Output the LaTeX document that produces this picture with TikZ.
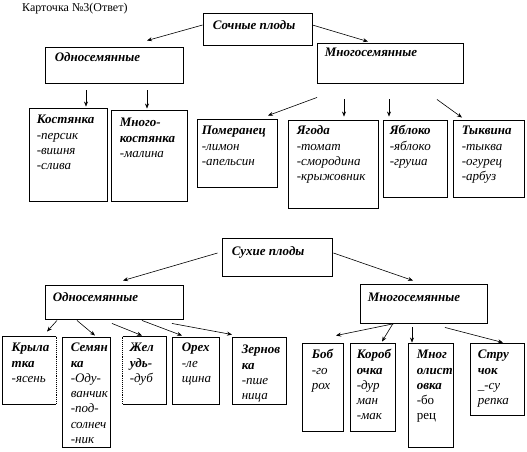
\documentclass[tikz,border=0pt]{standalone}
\usepackage{fontspec}
\setmainfont{Liberation Serif}
\usetikzlibrary{arrows.meta,fit}
\newcommand\hd[1]{{\bfseries\itshape #1}}
\newcommand\fr{\rule{0pt}{11pt}}
\newcommand\mkbox[5]{\path (#2,#3) coordinate (#1-a) (#4,#5) coordinate (#1-b); \node[boxst,fit=(#1-a)(#1-b)] (#1) {};}
\newcommand\mkboxn[5]{\path (#2,#3) coordinate (#1-a) (#4,#5) coordinate (#1-b); \node[boxst,draw=none,fit=(#1-a)(#1-b)] (#1) {};}
\newcommand\tx[4]{\node[txt] (#1-t) at ([shift={(#2,#3)}]#1.north west) {\fr #4};}
\begin{document}
\begin{tikzpicture}[x=1pt,y=-1pt,
 boxst/.style={draw,line width=0.9pt,inner sep=0pt},
 txt/.style={anchor=north west,inner sep=0pt,align=left,font=\fontsize{13}{15.3}\selectfont\itshape},
 arr/.style={-{Stealth[length=5pt,width=4pt]},line width=0.6pt}]
\useasboundingbox (0,0) rectangle (527,451);
\node[anchor=west,inner sep=0pt,font=\fontsize{12}{14}\selectfont] (title) at (22,9) {Карточка №3(Ответ)};
% top part
\mkbox{sochn}{203}{13}{312}{45}
\mkbox{odna}{45}{47}{183}{83}
\mkbox{mnoga}{317}{43}{463}{83}
\mkbox{kost}{29}{108}{107}{201}
\mkbox{mkost}{111}{110}{187}{201}
\mkbox{pomer}{197}{119}{277}{187}
\mkbox{yagoda}{288}{120}{378}{208}
\mkbox{yabl}{383}{120}{447}{197}
\mkbox{tykv}{453}{120}{524}{197}
\tx{sochn}{10}{6}{\hd{Сочные плоды}}
\tx{odna}{10}{4}{\hd{Односемянные}}
\tx{mnoga}{8}{3}{\hd{Многосемянные}}
\tx{kost}{8}{5}{\hd{Костянка}\\-персик\\-вишня\\-слива}
\tx{mkost}{9}{6}{\hd{Много-}\\\hd{костянка}\\-малина}
\tx{pomer}{5}{5}{\hd{Померанец}\\-лимон\\-апельсин}
\tx{yagoda}{9}{4}{\hd{Ягода}\\-томат\\-смородина\\-крыжовник}
\tx{yabl}{7}{4}{\hd{Яблоко}\\-яблоко\\-груша}
\tx{tykv}{9}{4}{\hd{Тыквина}\\-тыква\\-огурец\\-арбуз}
\draw[arr] ([shift={(0,-4)}]sochn.west) -- ([shift={(33,-6)}]odna.north);
\draw[arr] ([shift={(0,-4)}]sochn.east) -- ([shift={(-22,-1)}]mnoga.north);
\draw[arr] ([shift={(-28,7)}]odna.south) -- ([shift={(18,-1)}]kost.north);
\draw[arr] ([shift={(33,7)}]odna.south) -- ([shift={(-2,-1)}]mkost.north);
\draw[arr] ([shift={(-73,14)}]mnoga.south) -- ([shift={(31,-3)}]pomer.north);
\draw[arr] ([shift={(-46,16)}]mnoga.south) -- ([shift={(11,-3)}]yagoda.north);
\draw[arr] ([shift={(-1,16)}]mnoga.south) -- ([shift={(-26,-3)}]yabl.north);
\draw[arr] ([shift={(47,16)}]mnoga.south) -- ([shift={(-26.5,-2)}]tykv.north);
% bottom part
\mkbox{sukh}{222}{238}{332}{276}
\mkbox{odnb}{45}{285}{183}{319}
\mkbox{mnogb}{360}{284}{487}{323}
\mkboxn{kryl}{3}{337}{56}{404}
\mkbox{semyan}{62}{337}{110}{447}
\mkboxn{zhel}{123}{337}{166}{404}
\mkbox{orekh}{172}{337}{219}{404}
\mkbox{zern}{232}{337}{286}{404}
\mkbox{bob}{302}{343}{343}{431}
\mkbox{korob}{350}{343}{395}{431}
\mkbox{mnogl}{408}{343}{453}{447}
\mkbox{struch}{470}{343}{524}{415}
\draw[line width=0.9pt] (kryl.north east) -- (kryl.north west) -- (kryl.south west) -- (kryl.south east);
\draw[line width=0.9pt,densely dotted] (kryl.north east) -- (kryl.south east);
\draw[line width=0.9pt] (zhel.north west) -- (zhel.north east) -- (zhel.south east) -- (zhel.south west);
\draw[line width=0.9pt,densely dotted] (zhel.north west) -- (zhel.south west);
\tx{sukh}{10}{7}{\hd{Сухие плоды}}
\tx{odnb}{8}{6}{\hd{Односемянные}}
\tx{mnogb}{8}{7}{\hd{Многосемянные}}
\tx{kryl}{9}{4}{\hd{Крыла}\\\hd{тка}\\-ясень}
\tx{semyan}{9}{4}{\hd{Семян}\\\hd{ка}\\-Оду-\\ванчик\\-под-\\солнеч\\-ник}
\tx{zhel}{7}{4}{\hd{Жел}\\\hd{удь-}\\-дуб}
\tx{orekh}{10}{4}{\hd{Орех}\\-ле\\щина}
\tx{zern}{10}{6}{\hd{Зернов}\\\hd{ка}\\-пше\\ница}
\tx{bob}{10}{5}{\hd{Боб}\\-го\\рох}
\tx{korob}{7}{5}{\hd{Короб}\\\hd{очка}\\-дур\\ман\\-мак}
\tx{mnogl}{9}{5}{\hd{Мног}\\\hd{олист}\\\hd{овка}\\{\upshape -бо}\\{\upshape рец}}
\tx{struch}{8}{5}{\hd{Стру}\\\hd{чок}\\\_-су\\репка}
\draw[arr] ([shift={(-4,-4)}]sukh.west) -- ([shift={(9,-4)}]odnb.north);
\draw[arr] ([shift={(1,-4)}]sukh.east) -- ([shift={(-10.5,-3)}]mnogb.north);
\draw[arr] ([shift={(-57,1)}]odnb.south) -- ([shift={(17.5,-5)}]kryl.north);
\draw[arr] ([shift={(-37,1)}]odnb.south) -- ([shift={(9,-1)}]semyan.north);
\draw[arr] ([shift={(-2,4)}]odnb.south) -- ([shift={(-2.5,-1)}]zhel.north);
\draw[arr] ([shift={(28,1)}]odnb.south) -- ([shift={(-13.5,-1)}]orekh.north);
\draw[arr] ([shift={(58,4)}]odnb.south) -- ([shift={(-27,-2)}]zern.north);
\draw[arr] ([shift={(-28.5,0)}]mnogb.south) -- ([shift={(13.5,-7)}]bob.north);
\draw[arr] ([shift={(-30.5,0)}]mnogb.south) -- ([shift={(9.5,-1)}]korob.north);
\draw[arr] ([shift={(-11.5,4)}]mnogb.south) -- ([shift={(-18.5,0)}]mnogl.north);
\draw[arr] ([shift={(21.5,4)}]mnogb.south) -- ([shift={(6,0)}]struch.north);
\end{tikzpicture}
\end{document}
